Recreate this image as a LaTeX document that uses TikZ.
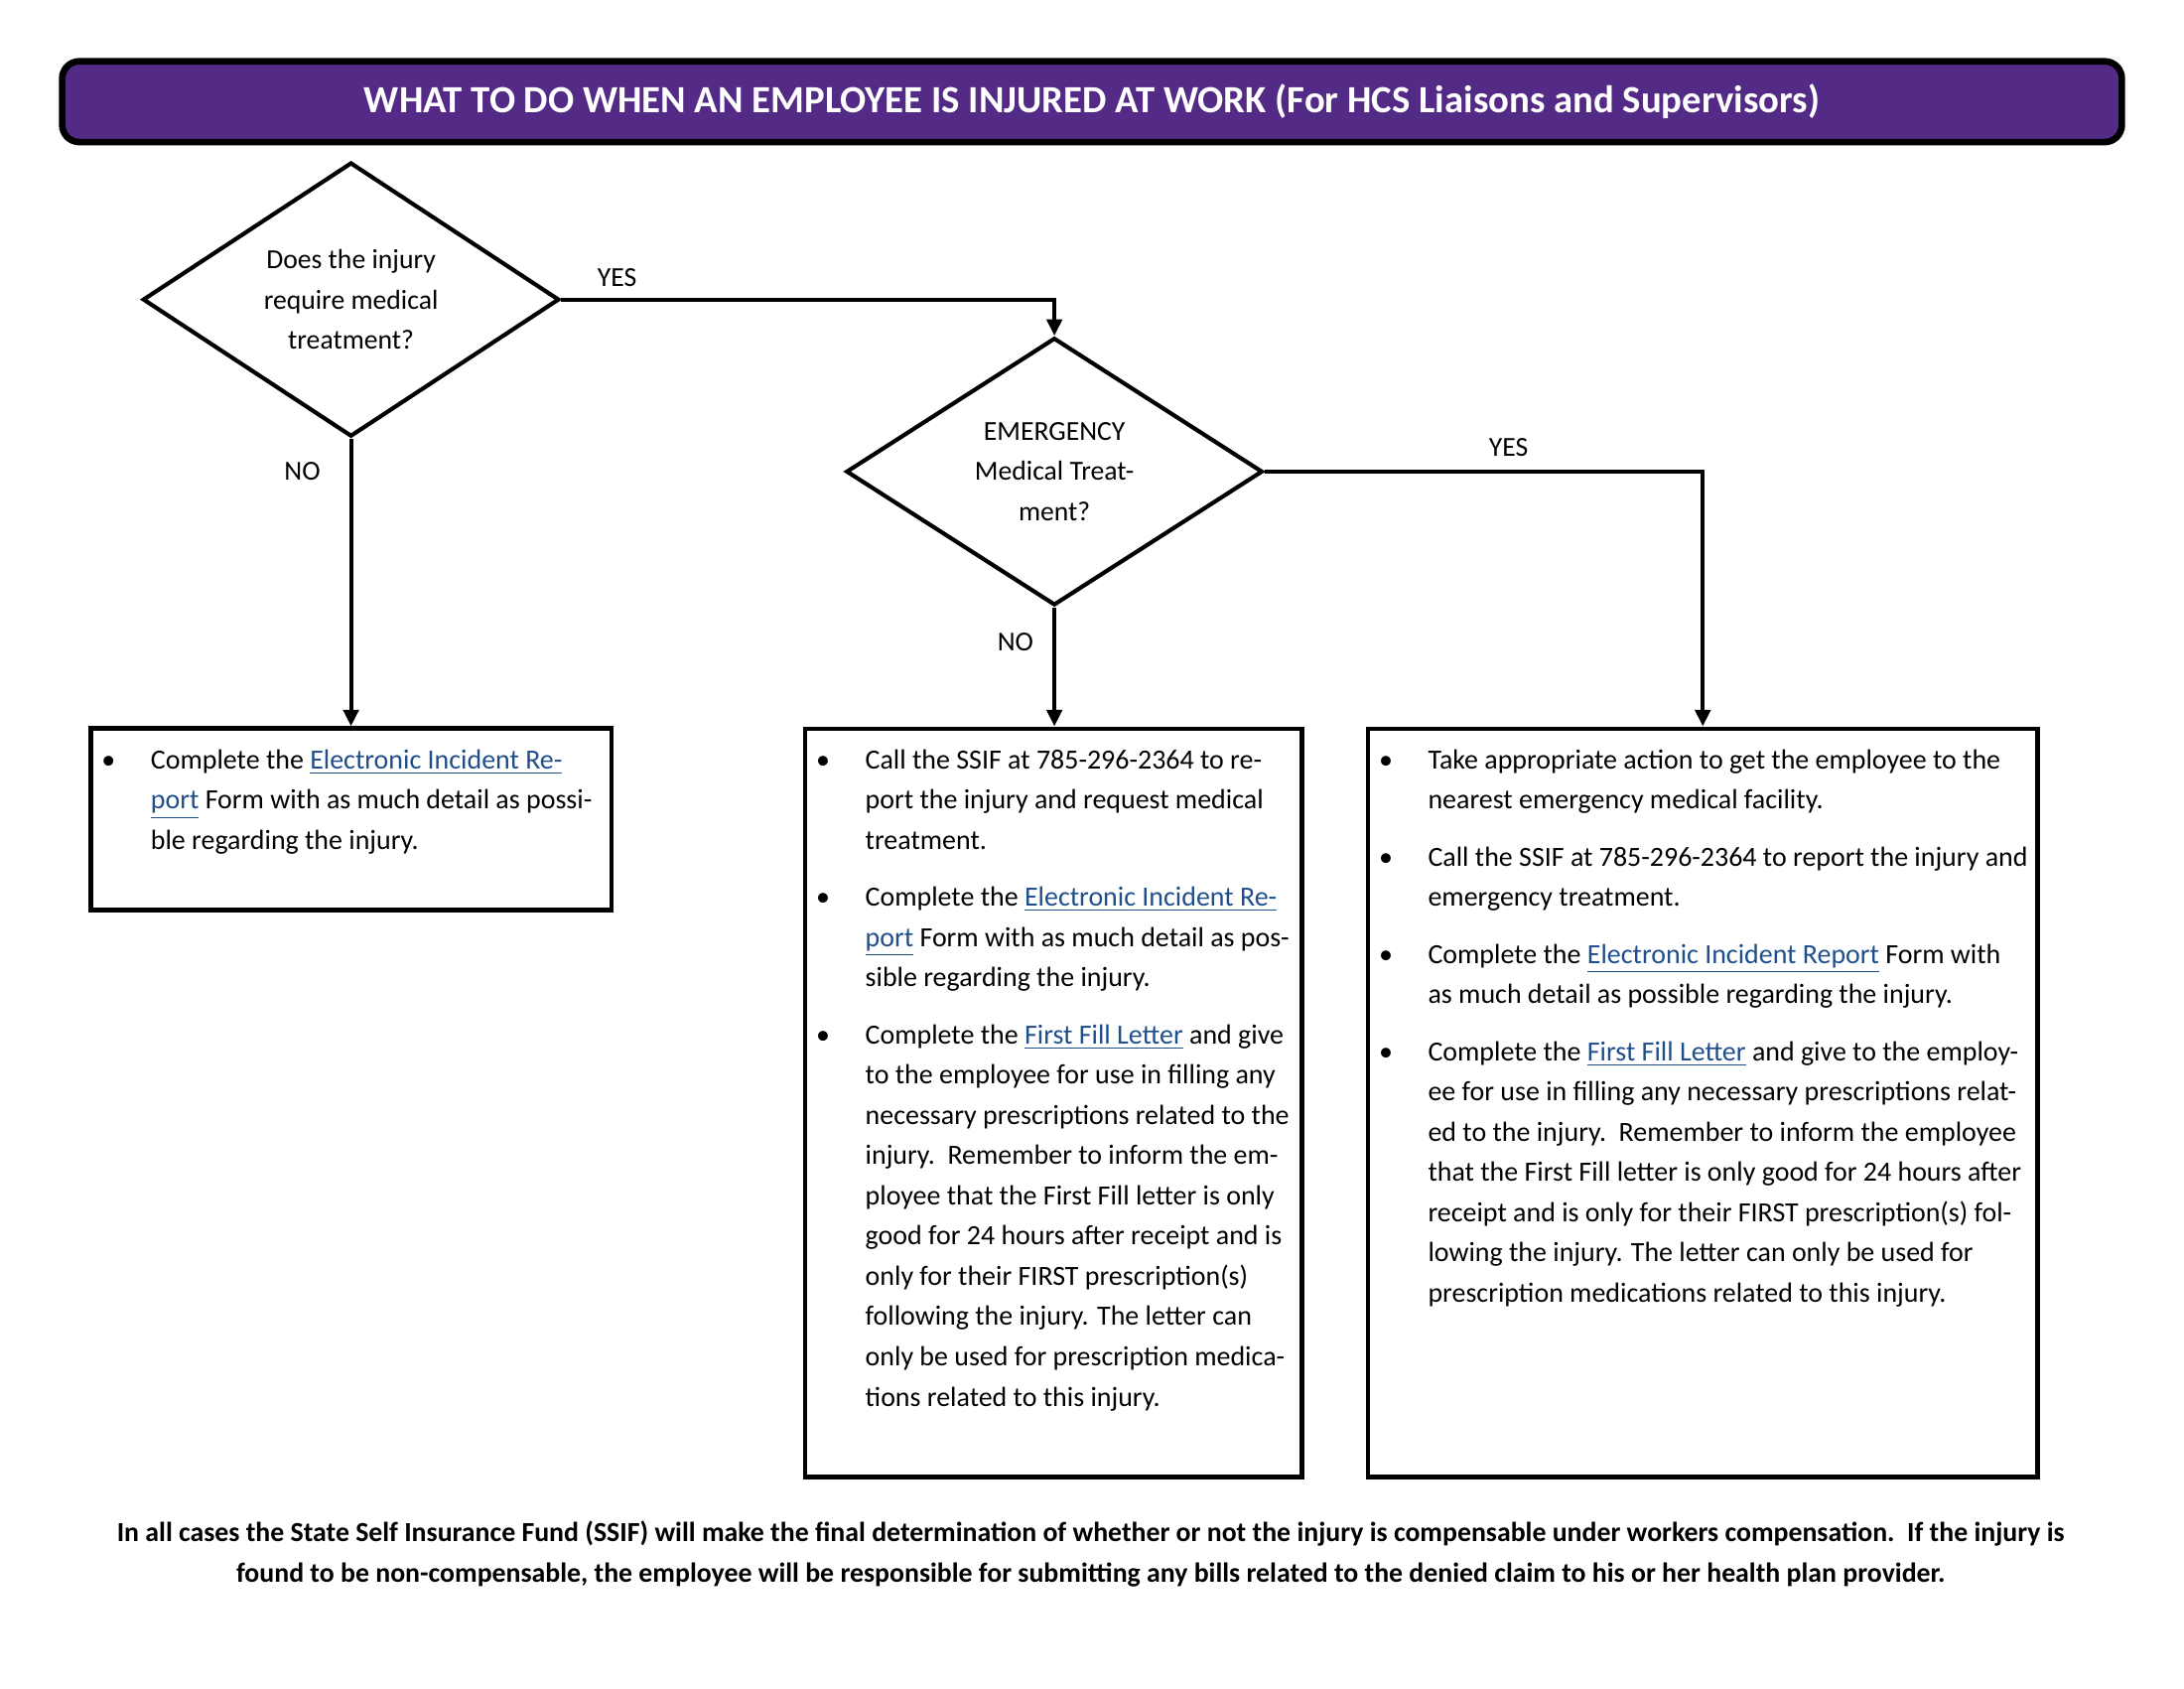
\documentclass[tikz,border=0pt]{standalone}
\usepackage{fontspec}
\setmainfont{Carlito}
\usetikzlibrary{arrows.meta,positioning,shapes.geometric}
\definecolor{hcspurple}{RGB}{83,42,134}
\definecolor{linkblue}{RGB}{31,78,140}
\newcommand{\lnk}[1]{{\color{linkblue}\underline{#1}}}
\newcommand{\bul}{\makebox[17.9pt][l]{\textbullet}}
\newcommand{\ind}{\hspace*{17.9pt}}
\tikzset{every picture/.style={line width=1.5pt}}
\tikzset{
  titlebar/.style={rectangle,draw,rounded corners=0.22cm,line width=2.4pt,fill=hcspurple,
    text=white,font=\bfseries\fontsize{14}{16}\selectfont,minimum width=26.354cm,minimum height=1.0335cm},
  decision/.style={diamond,draw,line width=1.5pt,minimum width=5.328cm,minimum height=3.421cm,
    inner sep=0pt,align=center,font=\fontsize{10}{14.65}\selectfont},
  stepbox/.style={rectangle,draw,line width=1.7pt,inner sep=0pt},
  boxtext/.style={anchor=north west,align=left,inner sep=0pt,font=\fontsize{10.1}{14.65}\selectfont},
  lbl/.style={font=\fontsize{10}{12}\selectfont},
  arr/.style={-{Triangle[length=6pt,width=5.5pt]},line width=1.5pt},
}
\begin{document}
\begin{tikzpicture}[x=0.0178189cm,y=-0.0178189cm]
\useasboundingbox (0,0) rectangle (1568,1211.7);
% header
\node[titlebar] (title) at (784,73) {WHAT TO DO WHEN AN EMPLOYEE IS INJURED AT WORK (For HCS Liaisons and Supervisors)};
% questions
\node[decision] (q1) at (252,215) {Does the injury\\require medical\\treatment?};
\node[decision] (q2) at (757,338.5) {EMERGENCY\\Medical Treat-\\ment?};
% action boxes
\node[stepbox,minimum width=6.664cm,minimum height=2.3165cm] (b1) at (252,588) {};
\node[stepbox,minimum width=6.361cm,minimum height=9.569cm] (b2) at (756.5,791.5) {};
\node[stepbox,minimum width=8.571cm,minimum height=9.569cm] (b3) at (1222.5,791.5) {};
\node[boxtext] (t1) at (71.5,536.5) {\bul Complete the \lnk{Electronic Incident Re-}\\
\ind\lnk{port} Form with as much detail as possi-\\
\ind ble regarding the injury.};
\node[boxtext] (t2) at (584.5,536.5) {\bul Call the SSIF at 785-296-2364 to re-\\
\ind port the injury and request medical\\
\ind treatment.\\[6.1pt]
\bul Complete the \lnk{Electronic Incident Re-}\\
\ind\lnk{port} Form with as much detail as pos-\\
\ind sible regarding the injury.\\[6.1pt]
\bul Complete the \lnk{First Fill Letter} and give\\
\ind to the employee for use in filling any\\
\ind necessary prescriptions related to the\\
\ind injury.\ \ Remember to inform the em-\\
\ind ployee that the First Fill letter is only\\
\ind good for 24 hours after receipt and is\\
\ind only for their FIRST prescription(s)\\
\ind following the injury. The letter can\\
\ind only be used for prescription medica-\\
\ind tions related to this injury.};
\node[boxtext] (t3) at (988.5,536.5) {\bul Take appropriate action to get the employee to the\\
\ind nearest emergency medical facility.\\[6.1pt]
\bul Call the SSIF at 785-296-2364 to report the injury and\\
\ind emergency treatment.\\[6.1pt]
\bul Complete the \lnk{Electronic Incident Report} Form with\\
\ind as much detail as possible regarding the injury.\\[6.1pt]
\bul Complete the \lnk{First Fill Letter} and give to the employ-\\
\ind ee for use in filling any necessary prescriptions relat-\\
\ind ed to the injury.\ \ Remember to inform the employee\\
\ind that the First Fill letter is only good for 24 hours after\\
\ind receipt and is only for their FIRST prescription(s) fol-\\
\ind lowing the injury. The letter can only be used for\\
\ind prescription medications related to this injury.};
% yes / no labels
\node[lbl] (yes1) at (443,199) {YES};
\node[lbl] (yes2) at (1083,321) {YES};
\node[lbl] (no1) at (217,338) {NO};
\node[lbl] (no2) at (729,461) {NO};
% connectors
\draw[arr] (q1.east) -| (q2.north);
\draw[arr] (q2.east) -| (b3.north);
\path[arr]
(q1.south) edge (b1.north)
(q2.south) edge (q2.south |- b2.north);
% footer
\node[align=center,font=\bfseries\fontsize{10.05}{14.65}\selectfont] (note) at (783,1115.5)
{In all cases the State Self Insurance Fund (SSIF) will make the final determination of whether or not the injury is compensable under workers compensation.\ \ If the injury is\\
found to be non-compensable, the employee will be responsible for submitting any bills related to the denied claim to his or her health plan provider.};
\end{tikzpicture}
\end{document}
